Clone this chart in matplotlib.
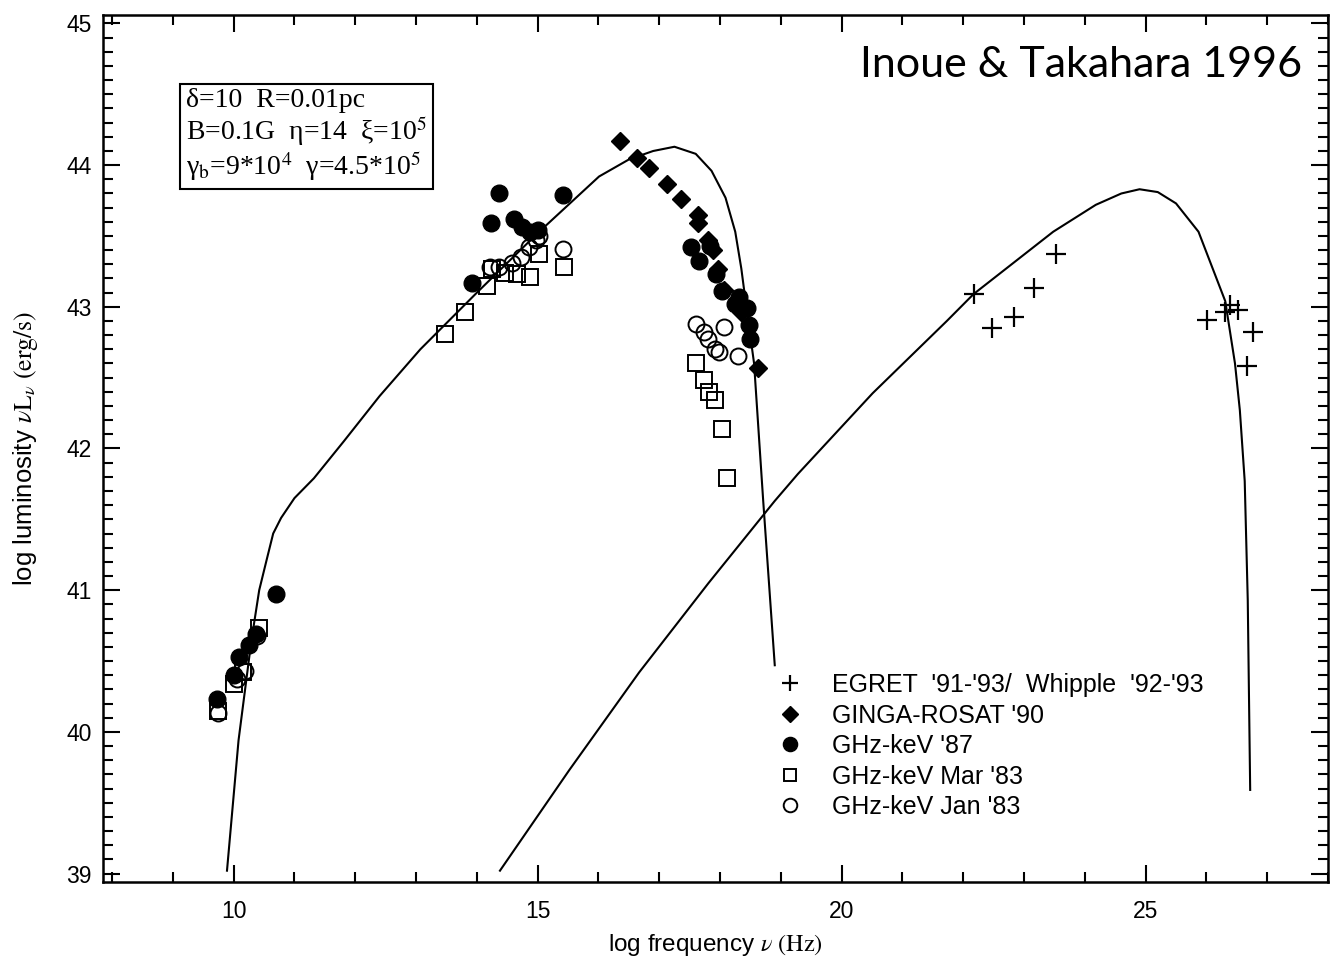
import numpy as np
import matplotlib
matplotlib.use("Agg")
import matplotlib.pyplot as plt
from matplotlib.ticker import MultipleLocator

plt.rcParams["font.family"] = ["Liberation Sans", "DejaVu Sans"]
plt.rcParams["mathtext.fontset"] = "stix"

# model curves (log nu, log nuLnu)
sync_x = [9.89, 10.08, 10.29, 10.42, 10.54, 10.65, 10.78, 11.0, 11.32, 11.81, 12.4,
          13.07, 14.0, 15.0, 16.01, 16.5, 16.9, 17.25, 17.6, 17.86, 18.09, 18.25,
          18.35, 18.42, 18.56, 18.71, 18.9]
sync_y = [39.02, 39.94, 40.64, 41.0, 41.21, 41.40, 41.51, 41.65, 41.79, 42.05, 42.37,
          42.70, 43.10, 43.52, 43.92, 44.04, 44.10, 44.13, 44.08, 43.96, 43.77, 43.53,
          43.27, 43.04, 42.6, 41.63, 40.47]

comp_x = [14.38, 15.52, 16.67, 17.81, 18.9, 19.28, 20.51, 21.73, 22.17, 23.48, 24.18,
          24.6, 24.9, 25.2, 25.5, 25.87, 26.31, 26.47, 26.55, 26.63, 26.68, 26.72]
comp_y = [39.02, 39.73, 40.42, 41.05, 41.63, 41.82, 42.39, 42.90, 43.09, 43.53, 43.72,
          43.80, 43.83, 43.81, 43.73, 43.53, 43.04, 42.60, 42.27, 41.77, 40.93, 39.59]

# observations
egret_x = [22.17, 22.48, 22.84, 23.17, 23.53, 26.01, 26.31, 26.39, 26.52, 26.76, 26.67]
egret_y = [43.09, 42.85, 42.93, 43.13, 43.37, 42.91, 42.96, 43.01, 42.98, 42.82, 42.58]

ginga_x = [16.36, 16.63, 16.83, 17.12, 17.35, 17.63, 17.63, 17.81, 17.89, 17.97, 18.07,
           18.3, 18.35, 18.63]
ginga_y = [44.17, 44.05, 43.98, 43.87, 43.76, 43.65, 43.59, 43.47, 43.40, 43.27, 43.12,
           43.04, 42.96, 42.57]

ghz87_x = [9.72, 10.0, 10.08, 10.25, 10.37, 10.70, 13.92, 14.23, 14.36, 14.61, 14.75,
           14.88, 15.0, 15.41, 17.53, 17.84, 17.65, 17.94, 18.04, 18.24, 18.32, 18.44,
           18.47, 18.5]
ghz87_y = [40.23, 40.40, 40.53, 40.61, 40.69, 40.97, 43.17, 43.59, 43.80, 43.62, 43.56,
           43.53, 43.54, 43.79, 43.42, 43.43, 43.32, 43.23, 43.11, 43.02, 43.07, 42.99,
           42.87, 42.77]

mar83_x = [9.75, 10.0, 10.15, 10.41, 13.48, 13.81, 14.17, 14.25, 14.46, 14.66, 14.87,
           15.03, 15.44, 17.61, 17.74, 17.82, 17.92, 18.04, 18.12]
mar83_y = [40.15, 40.34, 40.42, 40.73, 42.81, 42.96, 43.15, 43.27, 43.24, 43.23, 43.21,
           43.37, 43.28, 42.60, 42.48, 42.40, 42.34, 42.14, 41.79]

jan83_x = [9.75, 10.05, 10.19, 10.39, 14.22, 14.37, 14.58, 14.73, 14.86, 14.98, 15.03,
           15.41, 17.61, 17.73, 17.81, 17.91, 17.99, 18.07, 18.3]
jan83_y = [40.13, 40.37, 40.43, 40.68, 43.28, 43.28, 43.31, 43.35, 43.42, 43.47, 43.50,
           43.41, 42.88, 42.82, 42.77, 42.70, 42.68, 42.86, 42.65]

x_ticks = [10, 15, 20, 25]
y_ticks = [39, 40, 41, 42, 43, 44, 45]

fig = plt.figure(figsize=(13.32, 9.61), dpi=100)
ax = fig.add_axes([0.0773, 0.0822, 0.9197, 0.9022])

ax.plot(sync_x, sync_y, color="black", lw=1.5)
ax.plot(comp_x, comp_y, color="black", lw=1.5)

ax.plot(egret_x, egret_y, ls="none", marker="+", ms=14, mew=1.6, color="black",
        label="EGRET  '91-'93/  Whipple  '92-'93")
ax.plot(ginga_x, ginga_y, ls="none", marker="D", ms=9.5, color="black",
        label="GINGA-ROSAT '90")
ax.plot(ghz87_x, ghz87_y, ls="none", marker="o", ms=12, color="black",
        label="GHz-keV '87")
ax.plot(mar83_x, mar83_y, ls="none", marker="s", ms=11, mfc="none", mec="black",
        mew=1.4, label="GHz-keV Mar '83")
ax.plot(jan83_x, jan83_y, ls="none", marker="o", ms=11.5, mfc="none", mec="black",
        mew=1.4, label="GHz-keV Jan '83")

ax.set_xlim(7.85, 28.0)
ax.set_ylim(38.94, 45.06)
ax.set_xticks(x_ticks)
ax.set_yticks(y_ticks)
ax.xaxis.set_minor_locator(MultipleLocator(1))
ax.yaxis.set_minor_locator(MultipleLocator(0.1))
ax.tick_params(which="both", direction="in", top=True, right=True, width=1.5,
               labelsize=16.5)
ax.tick_params(which="major", length=12)
ax.tick_params(which="minor", length=7)
ax.tick_params(axis="x", pad=13)
ax.tick_params(axis="y", pad=8)
for s in ax.spines.values():
    s.set_linewidth(1.8)

ax.set_xlabel(r"log frequency $\nu\ \mathrm{(Hz)}$", fontsize=17.5)
ax.set_ylabel(r"log luminosity $\nu\mathrm{L}_{\nu}\ \mathrm{(erg/s)}$", fontsize=18.5)
ax.xaxis.set_label_coords(0.5, -0.058)
ax.yaxis.set_label_coords(-0.051, 0.5)

params = ("δ=10  R=0.01pc\n"
          "B=0.1G  η=14  ξ=10$^5$\n"
          "γ$_\\mathrm{b}$=9*10$^4$  γ=4.5*10$^5$")
ax.text(0.0675, 0.916, params, transform=ax.transAxes, va="top", ha="left",
        fontsize=20, family=["Liberation Serif"], linespacing=1.05,
        bbox=dict(boxstyle="square,pad=0.22", fc="white", ec="black", lw=1.5))

ax.legend(loc="upper left", bbox_to_anchor=(0.5506, 0.241), frameon=False,
          fontsize=18, handlelength=1.0, handletextpad=1.18, labelspacing=0.26,
          borderpad=0, borderaxespad=0, markerscale=0.85)

fig.text(1302 / 1332, 1 - 77 / 961, "Inoue & Takahara 1996", ha="right",
         va="baseline", fontsize=31, family=["Lato"])

fig.savefig("out.png", dpi=100)
